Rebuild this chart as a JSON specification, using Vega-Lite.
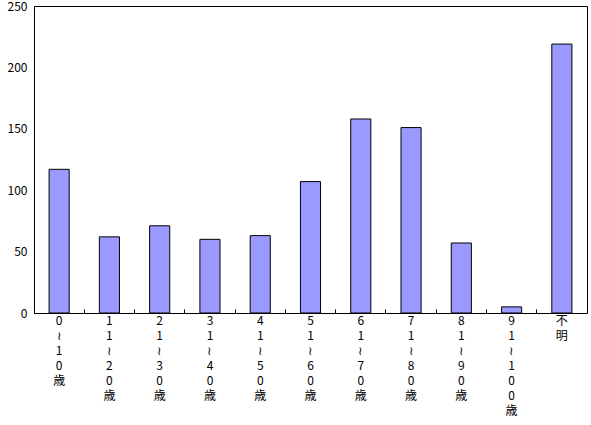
{
  "$schema": "https://vega.github.io/schema/vega-lite/v6.json",
  "autosize": "none",
  "width": 553,
  "height": 307,
  "padding": {"left": 34, "top": 6, "right": 4, "bottom": 112},
  "background": "white",
  "config": {
    "view": {"stroke": "black", "strokeWidth": 1},
    "font": "Noto Sans CJK JP",
    "axis": {"grid": false, "domain": false, "labelColor": "black", "labelFont": "Noto Sans CJK JP", "labelFontSize": 12, "title": null}
  },
  "data": {
    "values": [
      {"age": "0～10歳", "count": 117},
      {"age": "11～20歳", "count": 62},
      {"age": "21～30歳", "count": 71},
      {"age": "31～40歳", "count": 60},
      {"age": "41～50歳", "count": 63},
      {"age": "51～60歳", "count": 107},
      {"age": "61～70歳", "count": 158},
      {"age": "71～80歳", "count": 151},
      {"age": "81～90歳", "count": 57},
      {"age": "91～100歳", "count": 5},
      {"age": "不明", "count": 219}
    ]
  },
  "mark": {"type": "bar", "fill": "#9999FF", "stroke": "black", "strokeWidth": 1, "width": {"band": 0.4}},
  "encoding": {
    "x": {
      "field": "age",
      "type": "nominal",
      "sort": null,
      "scale": {"paddingInner": 0, "paddingOuter": 0},
      "axis": {
        "labelAngle": 0,
        "labelExpr": "split(replace(datum.label, '～', '≀'), '')",
        "labelLineHeight": 15,
        "labelBaseline": "top",
        "labelPadding": 6,
        "bandPosition": 0,
        "ticks": true,
        "tickSize": -4,
        "tickColor": "black",
        "labelFlush": false,
        "labelOverlap": false,
        "labelBound": false
      }
    },
    "y": {
      "field": "count",
      "type": "quantitative",
      "scale": {"domain": [0, 250], "nice": false},
      "axis": {"values": [0, 50, 100, 150, 200, 250], "ticks": false, "labelPadding": 7, "labelFlush": false}
    }
  }
}
